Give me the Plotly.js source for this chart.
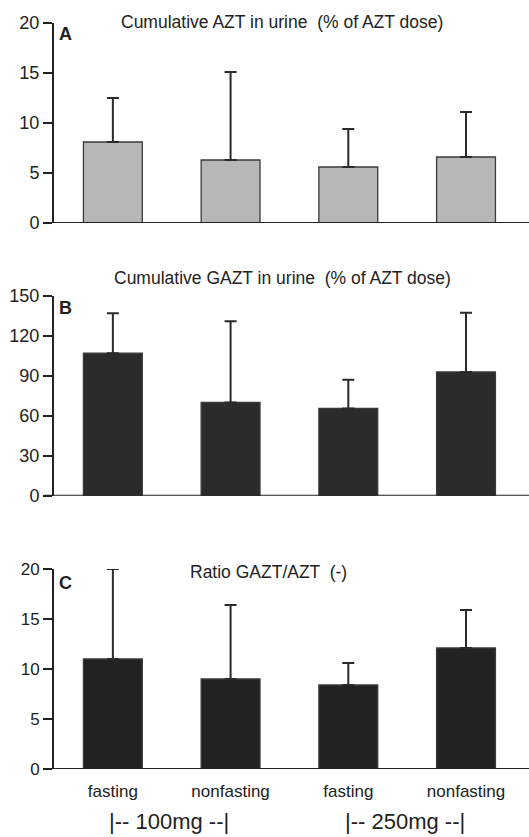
<!DOCTYPE html>
<html>
<head>
<meta charset="utf-8">
<script src="https://cdn.plot.ly/plotly-3.0.1.min.js"></script>
<style>html,body{margin:0;padding:0;background:#fff;}#chart{width:529px;height:837px;}</style>
</head>
<body>
<div id="chart"></div>
<script>
// Data
const categories = ['fasting', 'nonfasting', 'fasting', 'nonfasting'];
const doseGroups = ['|-- 100mg --|', '|-- 250mg --|'];

const aztMean = [8.1, 6.3, 5.6, 6.6];
const aztUpper = [12.5, 15.1, 9.4, 11.1];

const gaztMean = [107, 70, 65.5, 93];
const gaztUpper = [137, 131, 87, 137.5];

const ratioMean = [11.0, 9.0, 8.4, 12.1];
const ratioUpper = [20.0, 16.4, 10.6, 15.9];

const aTicks = [0, 5, 10, 15, 20];
const bTicks = [0, 30, 60, 90, 120, 150];
const cTicks = [0, 5, 10, 15, 20];

const titles = ['Cumulative AZT in urine  (% of AZT dose)', 'Cumulative GAZT in urine  (% of AZT dose)', 'Ratio GAZT/AZT  (-)'];
const letters = ['A', 'B', 'C'];

const FONT = 'Liberation Sans, Arial, sans-serif';
const idx = categories.map((_, i) => i);

function barTrace(mean, upper, xa, ya, fill) {
  return {
    type: 'bar', x: idx, y: mean, xaxis: xa, yaxis: ya, width: 0.5,
    marker: {color: fill, line: {color: '#3a3a3a', width: 1.3}},
    error_y: {type: 'data', symmetric: false,
      array: upper.map((u, i) => u - mean[i]), arrayminus: mean.map(() => 0),
      color: '#2a2a2a', thickness: 2, width: 6},
    hoverinfo: 'skip', showlegend: false
  };
}

const data = [
  barTrace(aztMean, aztUpper, 'x', 'y', '#b7b7b7'),
  barTrace(gaztMean, gaztUpper, 'x2', 'y2', '#2b2b2b'),
  barTrace(ratioMean, ratioUpper, 'x3', 'y3', '#222222')
];

const H = 837;
const xdom = [54/529, 1];
const xr = [-0.5, 3.535];
function xaxis(showLabels) {
  return {domain: xdom, range: xr, showgrid: false, zeroline: false,
    showline: false, ticks: '', tickvals: idx, ticktext: categories,
    showticklabels: showLabels, tickfont: {family: FONT, size: 17, color: '#222'},
    ticklabelstandoff: 10, fixedrange: true};
}
function yaxis(dom, range, ticks, fs, anchor) {
  return {domain: dom, range: range, tickvals: ticks, showgrid: false, zeroline: false,
    showline: true, linecolor: '#222', linewidth: 2, ticks: 'outside', ticklen: 9,
    tickwidth: 1.6, tickcolor: '#222', anchor: anchor,
    tickfont: {family: FONT, size: fs, color: '#222'}, fixedrange: true};
}
const dom = (top, bot) => [1 - bot / H, 1 - top / H];

const layout = {
  width: 529, height: 837, margin: {l: 0, r: 0, t: 0, b: 0},
  paper_bgcolor: '#fff', plot_bgcolor: 'rgba(0,0,0,0)',
  font: {family: FONT, color: '#222'},
  xaxis: xaxis(false), xaxis2: Object.assign(xaxis(false), {anchor: 'y2'}),
  xaxis3: Object.assign(xaxis(true), {anchor: 'y3'}),
  yaxis: yaxis(dom(23, 223), [0, 20], aTicks, 18, 'x'),
  yaxis2: yaxis(dom(296, 495.7), [0, 150], bTicks, 18, 'x2'),
  yaxis3: yaxis(dom(569, 769), [0, 20], cTicks, 17, 'x3'),
  bargap: 0.5,
  shapes: [
    ['y', 0], ['y2', 0], ['y3', 0]
  ].map(([ya, v]) => ({type: 'line', xref: 'paper', yref: ya, x0: 44/529, x1: 1, y0: v, y1: v,
    line: {color: '#222', width: 2}})),
  annotations: []
};

const titleY = [22, 278, 572];
const titleX = [282, 282, 268];
const letterY = [34, 308, 583];
titles.forEach((t, i) => {
  layout.annotations.push({text: t, xref: 'paper', yref: 'paper', x: titleX[i] / 529, y: 1 - titleY[i] / H,
    xanchor: 'center', yanchor: 'middle', showarrow: false, font: {family: FONT, size: 17.5, color: '#222'}});
  layout.annotations.push({text: '<b>' + letters[i] + '</b>', xref: 'paper', yref: 'paper', x: 57 / 529, y: 1 - letterY[i] / H,
    xanchor: 'left', yanchor: 'middle', showarrow: false, font: {family: FONT, size: 18, color: '#222'}});
});
const groupX = [168.5, 405];
doseGroups.forEach((g, i) => {
  layout.annotations.push({text: g, xref: 'paper', yref: 'paper', x: groupX[i] / 529, y: 1 - 821 / H,
    xanchor: 'center', yanchor: 'middle', showarrow: false, font: {family: FONT, size: 22, color: '#222'}});
});

Plotly.newPlot('chart', data, layout, {staticPlot: true, displayModeBar: false});
</script>
</body>
</html>
